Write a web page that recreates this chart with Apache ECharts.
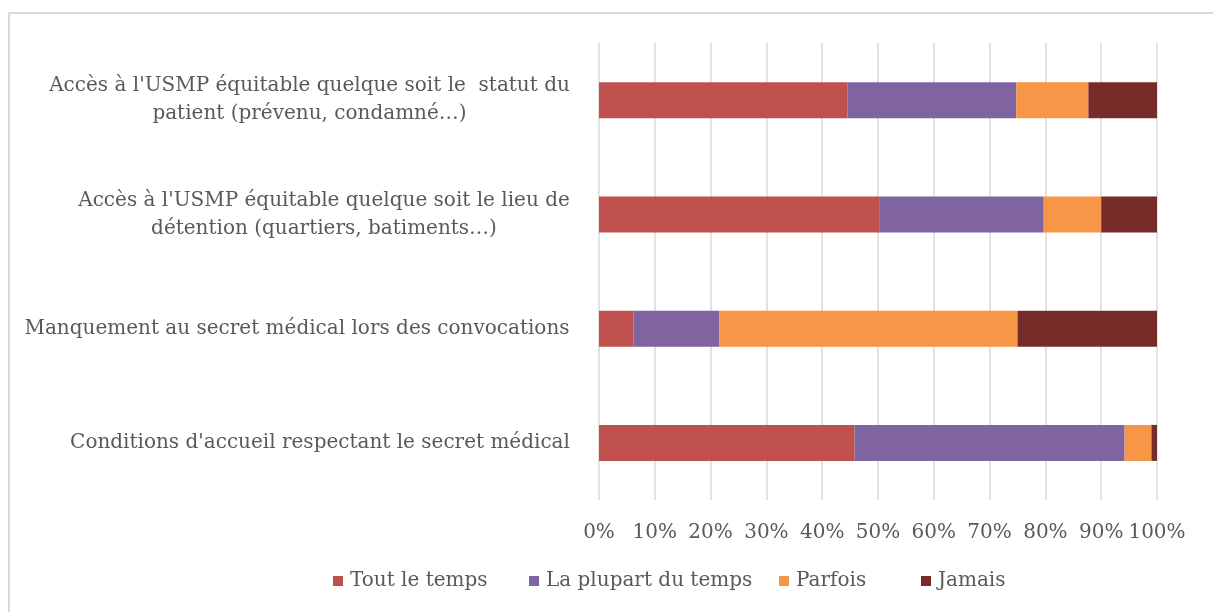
<!DOCTYPE html>
<html>
<head>
<meta charset="utf-8">
<script src="https://cdn.jsdelivr.net/npm/echarts@6/dist/echarts.min.js"></script>
<style>
  html, body { margin: 0; padding: 0; background: #fff; }
  #chart { width: 1213px; height: 612px; }
</style>
</head>
<body>
<div id="chart"></div>
<script>
// categories, bottom to top (category axis runs upward)
const categories = [
  "Conditions d'accueil respectant le secret médical",
  "Manquement au secret médical lors des convocations",
  "Accès à l'USMP équitable quelque soit le lieu de\ndétention (quartiers, batiments…)",
  "Accès à l'USMP équitable quelque soit le  statut du\npatient (prévenu, condamné…)"
];
const seriesNames = ['Tout le temps', 'La plupart du temps', 'Parfois', 'Jamais'];
const toutLeTemps = [45.8, 6.2, 50.2, 44.5];
const laPlupart = [48.4, 15.4, 29.5, 30.3];
const parfois = [4.8, 53.4, 10.3, 12.9];
const jamais = [1.0, 25.0, 10.0, 12.3];
const tickValues = [0, 10, 20, 30, 40, 50, 60, 70, 80, 90, 100];

const colors = ['#C0504D', '#8064A2', '#F79646', '#772C2A'];
const FONT = '"DejaVu Serif"';
const FONT_SIZE = 20;
const textColor = '#595959';
// legend entries sit in fixed columns, like the original
const legendLeft = [328, 524, 774, 916];

// center the lines of each wrapped label inside a block that is right-aligned to the axis
const ctx = document.createElement('canvas').getContext('2d');
ctx.font = FONT_SIZE + 'px ' + FONT;
const rich = {};
categories.forEach((c, i) => {
  const w = Math.max(...c.split('\n').map(l => ctx.measureText(l).width));
  rich['c' + i] = { width: Math.ceil(w) + 2, align: 'center', fontFamily: FONT, fontSize: FONT_SIZE, color: textColor, lineHeight: 28 };
});

const chart = echarts.init(document.getElementById('chart'));
const values = [toutLeTemps, laPlupart, parfois, jamais];

chart.setOption({
  animation: false,
  textStyle: { fontFamily: FONT },
  graphic: [{
    type: 'rect',
    shape: { x: 9, y: 13, width: 1300, height: 700 },
    style: { fill: 'none', stroke: '#D9D9D9', lineWidth: 2 },
    silent: true
  }],
  grid: { left: 599, right: 56, top: 43, bottom: 112 },
  legend: seriesNames.map((name, k) => ({
    left: legendLeft[k],
    top: 566,
    itemWidth: 10,
    itemHeight: 10,
    icon: 'rect',
    textStyle: { fontFamily: FONT, fontSize: FONT_SIZE, color: textColor, padding: [0, 0, 0, 2] },
    data: [name]
  })),
  xAxis: {
    type: 'value',
    min: 0,
    max: 100,
    interval: 10,
    axisLine: { show: false },
    axisTick: { show: false },
    splitLine: { lineStyle: { color: '#D9D9D9', width: 1.5 } },
    axisLabel: {
      margin: 23,
      formatter: v => tickValues.includes(v) ? v + '%' : '',
      fontFamily: FONT, fontSize: FONT_SIZE, color: textColor
    }
  },
  yAxis: {
    type: 'category',
    data: categories,
    axisLine: { show: false },
    axisTick: { show: false },
    axisLabel: {
      margin: 28,
      formatter: (v, i) => v.split('\n').map(l => '{c' + i + '|' + l + '}').join('\n'),
      rich: rich
    }
  },
  series: seriesNames.map((name, k) => ({
    name: name,
    type: 'bar',
    stack: 'total',
    barWidth: 36,
    itemStyle: { color: colors[k] },
    data: values[k]
  }))
});
</script>
</body>
</html>
